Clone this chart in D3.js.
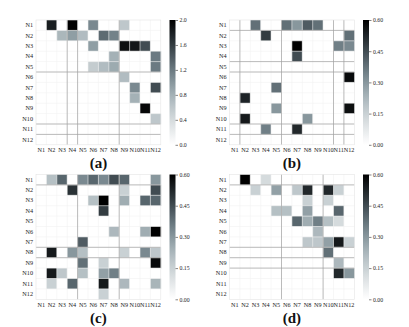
<!DOCTYPE html>
<html>
<head>
<meta charset="utf-8">
<script src="https://cdn.jsdelivr.net/npm/d3@7"></script>
<style>
  body { margin: 0; background: #fff; }
  text { font-family: "Liberation Serif", "DejaVu Serif", serif; }
</style>
</head>
<body>
<div id="chart"></div>
<script>
let labels = ["N1","N2","N3","N4","N5","N6","N7","N8","N9","N10","N11","N12"];

let matrixA = [
  [0,1.8,0,2.0,0,1.1,0,0,0.6,0,0,0],
  [0,0,0.75,0.95,0.7,0,1.3,1.15,0,0,0,0],
  [0,0,0,0,0,0.95,0,0,1.9,1.85,1.5,0],
  [0,0,0,0,0,0,0,0.8,0,0,0,1.2],
  [0,0,0,0,0,0.55,0.7,0.85,0,0,0,1.2],
  [0,0,0,0,0,0,0,0,0.7,0,0,0],
  [0,0,0,0,0,0,0,0,0,1.1,0,1.5],
  [0,0,0,0,0,0,0,0,0,0.8,0,0],
  [0,0,0,0,0,0,0,0,0,0,1.95,0],
  [0,0,0,0,0,0,0,0,0,0,0,0.6],
  [0,0,0,0,0,0,0,0,0,0,0,0],
  [0,0,0,0,0,0,0,0,0,0,0,0]
];
let matrixB = [
  [0,0,0.38,0,0,0.38,0.3,0.42,0.38,0,0,0],
  [0,0,0,0.48,0,0,0,0,0,0,0,0.38],
  [0,0,0,0,0,0,0.6,0,0,0,0.35,0.33],
  [0,0,0,0,0,0,0.45,0,0,0,0,0],
  [0,0,0,0,0,0,0,0,0,0,0,0],
  [0,0,0,0,0,0,0,0,0,0,0,0.58],
  [0,0,0,0,0.38,0,0,0,0,0,0,0],
  [0,0.53,0,0,0,0,0,0,0,0,0,0],
  [0,0,0,0,0.3,0,0,0,0,0,0,0.57],
  [0,0.55,0,0,0,0,0,0.3,0,0,0,0],
  [0,0,0,0.35,0,0,0.52,0,0,0,0,0],
  [0,0,0,0,0,0,0,0,0,0,0,0]
];
let matrixC = [
  [0,0.2,0.4,0,0.33,0.4,0.33,0.45,0.4,0,0,0.3],
  [0,0,0,0.5,0,0,0,0,0.15,0,0,0.45],
  [0,0,0,0,0,0.2,0.6,0,0.25,0,0.4,0.4],
  [0,0,0,0,0,0,0.48,0,0,0,0,0],
  [0,0,0,0,0,0,0,0,0,0,0,0],
  [0,0,0,0,0,0,0,0.22,0,0,0.25,0.6],
  [0,0,0,0,0.42,0,0,0,0,0,0,0],
  [0,0.55,0,0.3,0.2,0,0,0,0.15,0,0.33,0.18],
  [0,0,0,0,0.38,0,0.15,0,0,0,0,0.58],
  [0,0.55,0.18,0,0.2,0,0.28,0.35,0,0,0,0],
  [0,0.15,0,0.4,0,0,0.55,0,0.22,0,0,0.23],
  [0,0,0,0,0,0,0.15,0,0,0,0,0]
];
let matrixD = [
  [0,0.6,0,0.12,0,0,0,0,0,0,0,0],
  [0,0,0.15,0,0.28,0,0.18,0.52,0,0.52,0.15,0],
  [0,0,0,0,0,0,0,0.15,0,0.15,0,0],
  [0,0,0,0,0.2,0.2,0,0.28,0,0,0.4,0],
  [0,0,0,0,0,0,0.4,0.25,0.35,0.2,0.12,0],
  [0,0,0,0,0,0,0,0,0.22,0,0,0],
  [0,0,0,0,0,0,0,0.18,0.18,0.28,0.55,0.15],
  [0,0,0,0,0,0,0,0,0,0.38,0,0],
  [0,0,0,0,0,0,0,0,0,0,0.22,0],
  [0,0,0,0,0,0,0,0,0,0,0.52,0.3],
  [0,0,0,0,0,0,0,0,0,0,0,0],
  [0,0,0,0,0,0,0,0,0,0,0,0]
];

let ticksA = [0, 0.4, 0.8, 1.2, 1.6, 2.0];
let ticksBCD = [0, 0.15, 0.3, 0.45, 0.6];
let panelTitles = ["(a)", "(b)", "(c)", "(d)"];

// darker separator lines that show up in the picture (boundary index k)
let hLines = [[5,10,11], [1,4,5,10,11], [1,7,8], [1,7,8,9]];
let vLines = [[3,4,8], [1,5,10,11], [4,8], [5,9]];

// greyish-blue ramp, close to a washed out "bone_r"
let rampColors = ["#ffffff", "#d6dcde", "#a6b3b8", "#6b7c84", "#323b41", "#000000"];
let ramp = d3.interpolateRgbBasis(rampColors);

let W = 409, H = 327;
let cellSize = 10.4, n = labels.length, side = cellSize * n;

let svg = d3.select("#chart").append("svg")
    .attr("width", W)
    .attr("height", H);

let panels = [
  {m: matrixA, x0: 36, y0: 20, max: 2.0, ticks: ticksA, fmt: d3.format(".1f")},
  {m: matrixB, x0: 229.5, y0: 20, max: 0.6, ticks: ticksBCD, fmt: d3.format(".2f")},
  {m: matrixC, x0: 36, y0: 174.5, max: 0.6, ticks: ticksBCD, fmt: d3.format(".2f")},
  {m: matrixD, x0: 229.5, y0: 174.5, max: 0.6, ticks: ticksBCD, fmt: d3.format(".2f")}
];

let defs = svg.append("defs");
let grad = defs.append("linearGradient")
    .attr("id", "rampGrad")
    .attr("x1", 0).attr("y1", 1).attr("x2", 0).attr("y2", 0);
d3.range(0, 1.0001, 0.05).forEach(t => {
  grad.append("stop").attr("offset", t).attr("stop-color", ramp(t));
});

panels.forEach((p, pi) => {
  let g = svg.append("g");
  let x = d3.scaleBand().domain(labels).range([p.x0, p.x0 + side]);
  let y = d3.scaleBand().domain(labels).range([p.y0, p.y0 + side]);
  let color = d3.scaleSequential(ramp).domain([0, p.max]);

  let cells = [];
  p.m.forEach((row, i) => row.forEach((v, j) => {
    cells.push({r: labels[i], c: labels[j], v: v});
  }));

  g.selectAll("rect.cell")
    .data(cells)
    .join("rect")
      .attr("class", "cell")
      .attr("x", d => x(d.c))
      .attr("y", d => y(d.r))
      .attr("width", x.bandwidth() + 0.3)
      .attr("height", y.bandwidth() + 0.3)
      .attr("fill", d => color(d.v));

  // faint cell borders
  g.selectAll("line.fh")
    .data(d3.range(1, n))
    .join("line")
      .attr("x1", p.x0).attr("x2", p.x0 + side)
      .attr("y1", k => p.y0 + k * cellSize).attr("y2", k => p.y0 + k * cellSize)
      .attr("stroke", "#f1f1f1").attr("stroke-width", 0.6);
  g.selectAll("line.fv")
    .data(d3.range(1, n))
    .join("line")
      .attr("y1", p.y0).attr("y2", p.y0 + side)
      .attr("x1", k => p.x0 + k * cellSize).attr("x2", k => p.x0 + k * cellSize)
      .attr("stroke", "#f1f1f1").attr("stroke-width", 0.6);

  g.selectAll("line.h")
    .data(hLines[pi])
    .join("line")
      .attr("x1", p.x0).attr("x2", p.x0 + side)
      .attr("y1", k => p.y0 + k * cellSize).attr("y2", k => p.y0 + k * cellSize)
      .attr("stroke", "#a0a0a0").attr("stroke-width", 0.7);
  g.selectAll("line.v")
    .data(vLines[pi])
    .join("line")
      .attr("y1", p.y0).attr("y2", p.y0 + side)
      .attr("x1", k => p.x0 + k * cellSize).attr("x2", k => p.x0 + k * cellSize)
      .attr("stroke", "#a0a0a0").attr("stroke-width", 0.7);

  // outline
  g.append("rect")
    .attr("x", p.x0).attr("y", p.y0)
    .attr("width", side).attr("height", side)
    .attr("fill", "none").attr("stroke", "#e4e4e4").attr("stroke-width", 0.6);

  let yAxis = g.append("g")
      .attr("transform", `translate(${p.x0},0)`)
      .call(d3.axisLeft(y).tickSize(0).tickPadding(3));
  yAxis.select(".domain").remove();
  yAxis.selectAll("text")
      .attr("font-size", 6.2)
      .attr("fill", "#222");

  let xAxis = g.append("g")
      .attr("transform", `translate(0,${p.y0 + side})`)
      .call(d3.axisBottom(x).tickSize(0).tickPadding(3));
  xAxis.select(".domain").remove();
  xAxis.selectAll("text")
      .attr("font-size", 6.2)
      .attr("fill", "#222");

  // colorbar
  let cbX = p.x0 + 133.5;
  let cbScale = d3.scaleLinear().domain([0, p.max]).range([p.y0 + side, p.y0]);
  g.append("rect")
    .attr("x", cbX).attr("y", p.y0)
    .attr("width", 6).attr("height", side)
    .attr("fill", "url(#rampGrad)");
  let cbAxis = g.append("g")
      .attr("transform", `translate(${cbX + 6},0)`)
      .call(d3.axisRight(cbScale).tickValues(p.ticks).tickFormat(p.fmt).tickSize(2.5).tickPadding(1.5));
  cbAxis.select(".domain").remove();
  cbAxis.selectAll("line").attr("stroke", "#333").attr("stroke-width", 0.6);
  cbAxis.selectAll("text")
      .attr("font-size", 5.8)
      .attr("fill", "#222");

  g.append("text")
    .attr("x", p.x0 + side / 2)
    .attr("y", p.y0 + 148)
    .attr("text-anchor", "middle")
    .attr("font-weight", "bold")
    .attr("font-size", 15)
    .attr("fill", "#111")
    .text(panelTitles[pi]);
});
</script>
</body>
</html>
